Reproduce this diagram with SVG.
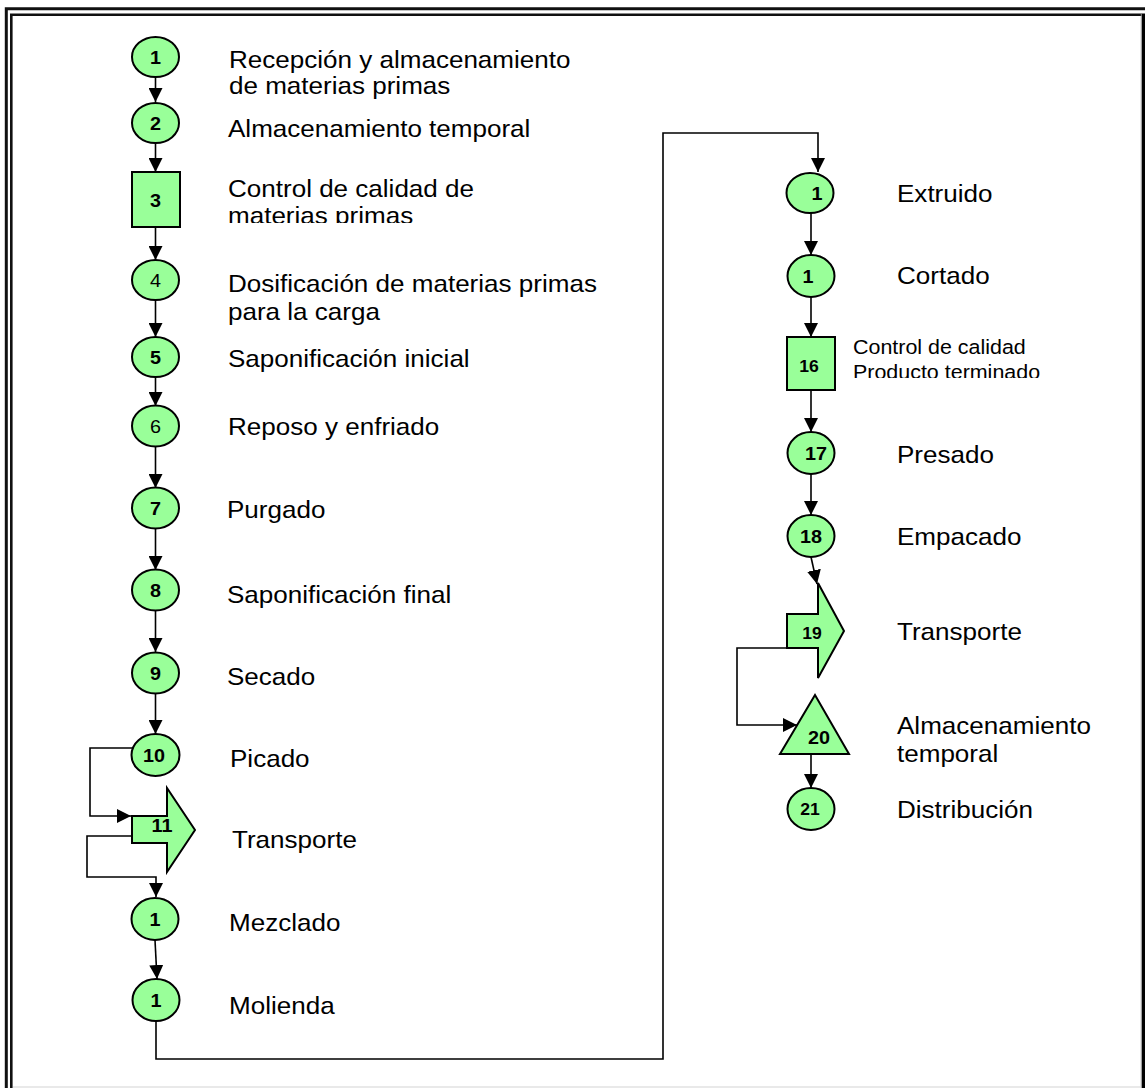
<svg xmlns="http://www.w3.org/2000/svg" width="1145" height="1088" viewBox="0 0 1145 1088">
<style>
.node{fill:#99FF99;stroke:#000;stroke-width:2}
.con{fill:none;stroke:#000;stroke-width:1.6}
.lbl{font-family:"Liberation Sans",Arial,Helvetica,sans-serif;font-size:24px;fill:#000}
.sm{font-size:19.5px}
.num{font-family:"Liberation Sans",Arial,Helvetica,sans-serif;font-size:18px;font-weight:bold;text-anchor:middle;fill:#000}
.n15{font-size:16px}
.reg{font-weight:normal}
</style>
<defs>
<marker id="ah" markerUnits="userSpaceOnUse" markerWidth="14" markerHeight="14" refX="14" refY="7" orient="auto">
<path d="M0,0 L14,7 L0,14 Z" fill="#000"/>
</marker>
<clipPath id="c3"><rect x="200" y="150" width="400" height="73"/></clipPath>
<clipPath id="c4"><rect x="200" y="250" width="450" height="75"/></clipPath>
<clipPath id="c16"><rect x="840" y="320" width="260" height="58"/></clipPath>
</defs>
<rect width="1145" height="1088" fill="#fff"/>
<g id="frame">
<path d="M6.3,1088 V8.8 H1145" fill="none" stroke="#111" stroke-width="3"/>
<path d="M11.3,1088 V14.7 H1142" fill="none" stroke="#111" stroke-width="2.6"/>
<rect x="1142" y="13.5" width="3" height="1075" fill="#000"/>
<line x1="1141.3" y1="14" x2="1141.3" y2="1088" stroke="#888" stroke-width="1"/>
<line x1="13" y1="1087" x2="1141" y2="1087" stroke="#e2e2e2" stroke-width="1.5"/>
</g>
<g id="connectors">
<line class="con" x1="155.5" y1="77" x2="155.5" y2="102" marker-end="url(#ah)"/>
<line class="con" x1="155.5" y1="143" x2="155.5" y2="172" marker-end="url(#ah)"/>
<line class="con" x1="155.5" y1="227" x2="155.5" y2="260" marker-end="url(#ah)"/>
<line class="con" x1="155.5" y1="300" x2="155.5" y2="337" marker-end="url(#ah)"/>
<line class="con" x1="155.5" y1="377" x2="155.5" y2="406" marker-end="url(#ah)"/>
<line class="con" x1="155.5" y1="446" x2="155.5" y2="488" marker-end="url(#ah)"/>
<line class="con" x1="155.5" y1="528" x2="155.5" y2="570" marker-end="url(#ah)"/>
<line class="con" x1="155.5" y1="610" x2="155.5" y2="652" marker-end="url(#ah)"/>
<line class="con" x1="155.5" y1="693" x2="155.5" y2="734" marker-end="url(#ah)"/>
<polyline class="con" points="133,748 90,748 90,816 131,816" marker-end="url(#ah)"/>
<polyline class="con" points="132,836 87,836 87,877 156,877 156,897" marker-end="url(#ah)"/>
<line class="con" x1="155" y1="940" x2="157" y2="979" marker-end="url(#ah)"/>
<polyline class="con" points="156,1021 156,1059 663,1059 663,133 818,133 818,172" marker-end="url(#ah)"/>
<line class="con" x1="811" y1="213" x2="811" y2="255" marker-end="url(#ah)"/>
<line class="con" x1="811" y1="297" x2="811" y2="337" marker-end="url(#ah)"/>
<line class="con" x1="811" y1="390" x2="811" y2="432" marker-end="url(#ah)"/>
<line class="con" x1="811" y1="474" x2="811" y2="515" marker-end="url(#ah)"/>
<line class="con" x1="811" y1="557" x2="817" y2="584" marker-end="url(#ah)"/>
<polyline class="con" points="787,648 737,648 737,725 797,725" marker-end="url(#ah)"/>
<line class="con" x1="811" y1="754" x2="811" y2="788" marker-end="url(#ah)"/>
</g>
<g id="n1"><ellipse class="node" cx="155.5" cy="57" rx="23.5" ry="20"/><text class="num" transform="translate(155.5,63.5) scale(1.1,1)">1</text>
<text class="lbl" transform="translate(229,68) scale(1.085,1)">Recepción y almacenamiento</text><text class="lbl" transform="translate(229,94) scale(1.085,1)">de materias primas</text></g>
<g id="n2"><ellipse class="node" cx="155.5" cy="123" rx="23.5" ry="20"/><text class="num" transform="translate(155.5,129.5) scale(1.1,1)">2</text>
<text class="lbl" transform="translate(228,137) scale(1.085,1)">Almacenamiento temporal</text></g>
<g id="n3"><rect class="node" x="132" y="172" width="48" height="55"/><text class="num" transform="translate(155.5,206.5) scale(1.1,1)">3</text>
<g clip-path="url(#c3)"><text class="lbl" transform="translate(228,197) scale(1.085,1)">Control de calidad de</text><text class="lbl" transform="translate(228,223.5) scale(1.085,1)">materias primas</text></g></g>
<g id="n4"><ellipse class="node" cx="155.5" cy="280" rx="23.5" ry="20"/><text class="num reg" transform="translate(155.5,286.5) scale(1.1,1)">4</text>
<g clip-path="url(#c4)"><text class="lbl" transform="translate(228,292) scale(1.085,1)">Dosificación de materias primas</text><text class="lbl" transform="translate(228,320) scale(1.085,1)">para la carga</text></g></g>
<g id="n5"><ellipse class="node" cx="155.5" cy="357" rx="23.5" ry="20"/><text class="num" transform="translate(155.5,363.5) scale(1.1,1)">5</text>
<text class="lbl" transform="translate(228,367) scale(1.085,1)">Saponificación inicial</text></g>
<g id="n6"><ellipse class="node" cx="155.5" cy="426" rx="23.5" ry="20.5"/><text class="num reg" transform="translate(155.5,432.5) scale(1.1,1)">6</text>
<text class="lbl" transform="translate(228,435) scale(1.085,1)">Reposo y enfriado</text></g>
<g id="n7"><ellipse class="node" cx="155.5" cy="508" rx="23.5" ry="20.5"/><text class="num" transform="translate(155.5,514.5) scale(1.1,1)">7</text>
<text class="lbl" transform="translate(227,518) scale(1.085,1)">Purgado</text></g>
<g id="n8"><ellipse class="node" cx="155.5" cy="590" rx="23.5" ry="20.5"/><text class="num" transform="translate(155.5,596.5) scale(1.1,1)">8</text>
<text class="lbl" transform="translate(227,603) scale(1.085,1)">Saponificación final</text></g>
<g id="n9"><ellipse class="node" cx="155.5" cy="673" rx="23.5" ry="20.5"/><text class="num" transform="translate(155.5,679.5) scale(1.1,1)">9</text>
<text class="lbl" transform="translate(227,685) scale(1.085,1)">Secado</text></g>
<g id="n10"><ellipse class="node" cx="155.5" cy="755" rx="24" ry="21"/><text class="num" transform="translate(154,761.5) scale(1.1,1)">10</text>
<text class="lbl" transform="translate(230,767) scale(1.085,1)">Picado</text></g>
<g id="n11"><path class="node" d="M132,816 H167 V788 L195,830 L167,872 V843 H132 Z"/><text class="num" transform="translate(162,831.5) scale(1.1,1)">11</text>
<text class="lbl" transform="translate(232,848) scale(1.085,1)">Transporte</text></g>
<g id="n12"><ellipse class="node" cx="155" cy="919" rx="23.5" ry="21"/><text class="num" transform="translate(155,925.5) scale(1.1,1)">1</text>
<text class="lbl" transform="translate(229,931) scale(1.085,1)">Mezclado</text></g>
<g id="n13"><ellipse class="node" cx="156" cy="1000" rx="23.5" ry="21"/><text class="num" transform="translate(156,1006.5) scale(1.1,1)">1</text>
<text class="lbl" transform="translate(229,1014) scale(1.085,1)">Molienda</text></g>
<g id="n14"><ellipse class="node" cx="810" cy="193" rx="23.5" ry="20"/><text class="num" transform="translate(817,199.5) scale(1.1,1)">1</text>
<text class="lbl" transform="translate(897,202) scale(1.085,1)">Extruido</text></g>
<g id="n15"><ellipse class="node" cx="811" cy="276" rx="23.5" ry="21"/><text class="num" transform="translate(808,282.5) scale(1.1,1)">1</text>
<text class="lbl" transform="translate(897,284) scale(1.085,1)">Cortado</text></g>
<g id="n16"><rect class="node" x="787" y="337" width="48" height="53"/><text class="num n15" transform="translate(809,371.5) scale(1.1,1)">16</text>
<g clip-path="url(#c16)"><text class="lbl sm" transform="translate(853,354) scale(1.1,1)">Control de calidad</text><text class="lbl sm" transform="translate(853,379) scale(1.1,1)">Producto terminado</text></g></g>
<g id="n17"><ellipse class="node" cx="811" cy="453" rx="23.5" ry="21"/><text class="num" transform="translate(816,460) scale(1.1,1)">17</text>
<text class="lbl" transform="translate(897,463) scale(1.085,1)">Presado</text></g>
<g id="n18"><ellipse class="node" cx="811" cy="536" rx="23.5" ry="21"/><text class="num" transform="translate(811,542.5) scale(1.1,1)">18</text>
<text class="lbl" transform="translate(897,545) scale(1.085,1)">Empacado</text></g>
<g id="n19"><path class="node" d="M787,614 H818 V583 L844,631 L818,678 V648 H787 Z"/><text class="num n15" transform="translate(812,638.5) scale(1.1,1)">19</text>
<text class="lbl" transform="translate(897,640) scale(1.085,1)">Transporte</text></g>
<g id="n20"><path class="node" d="M815,695 L849,754 L780,754 Z"/><text class="num" transform="translate(819,743.5) scale(1.1,1)">20</text>
<text class="lbl" transform="translate(897,734) scale(1.085,1)">Almacenamiento</text><text class="lbl" transform="translate(897,762) scale(1.085,1)">temporal</text></g>
<g id="n21"><ellipse class="node" cx="811" cy="809" rx="23.5" ry="21"/><text class="num n15" transform="translate(810,814.5) scale(1.1,1)">21</text>
<text class="lbl" transform="translate(897,818) scale(1.085,1)">Distribución</text></g>
</svg>
